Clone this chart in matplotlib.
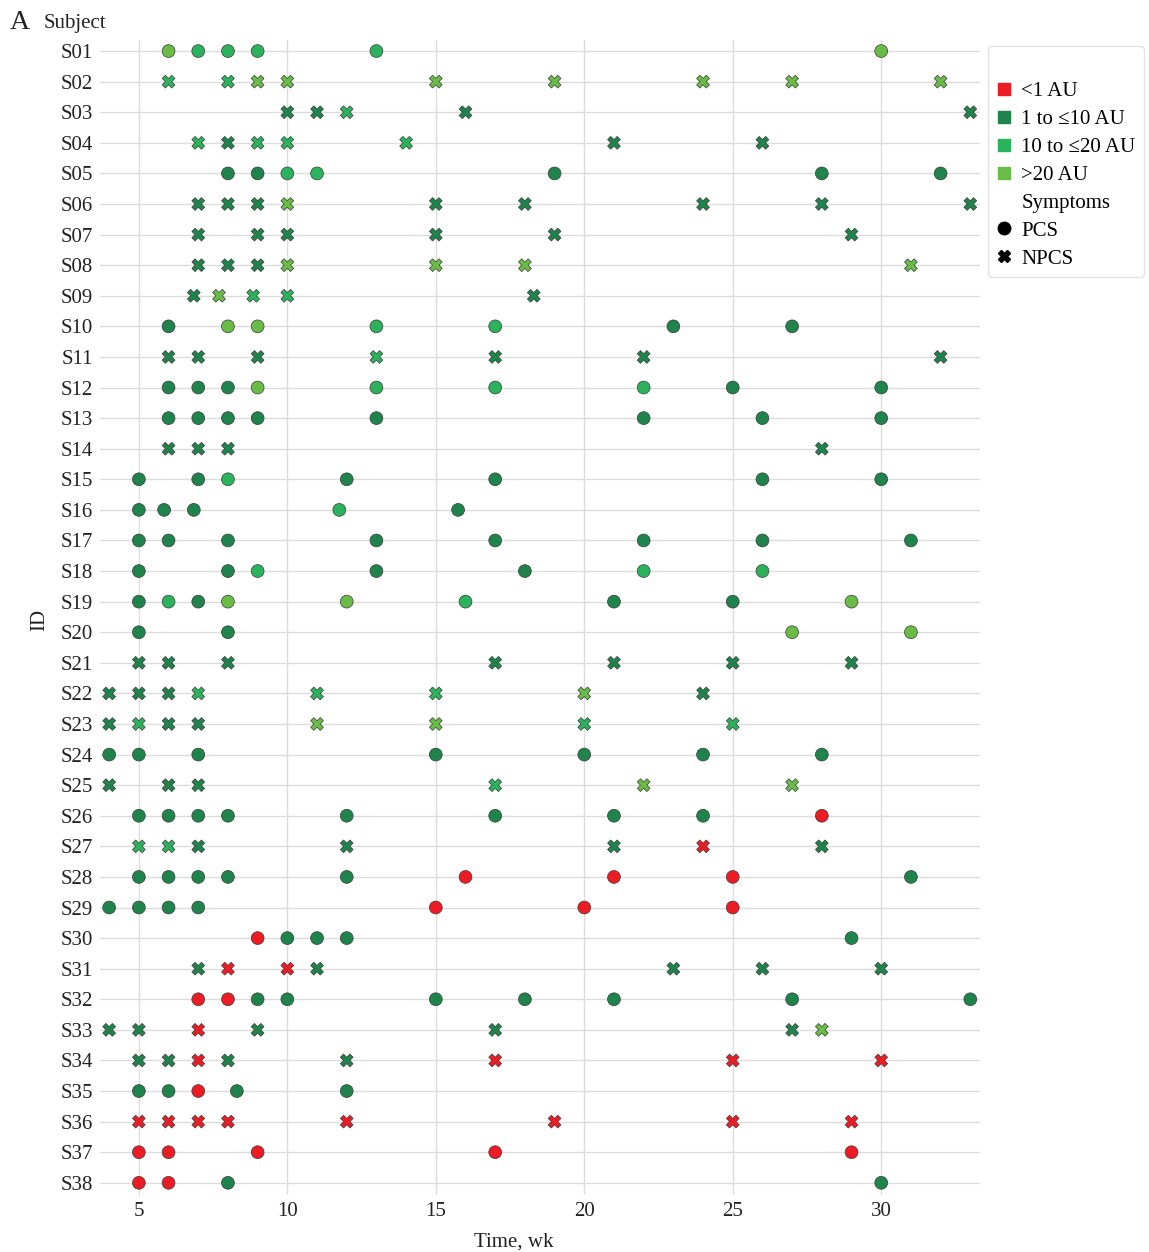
import matplotlib
matplotlib.use("Agg")
import matplotlib.pyplot as plt
from matplotlib.lines import Line2D

plt.rcParams['font.family'] = ['Liberation Serif', 'DejaVu Serif']

# subjects, symptom group and sampling weeks with antibody level class
# level: 0 = <1 AU, 1 = 1 to <=10 AU, 2 = 10 to <=20 AU, 3 = >20 AU
subjects = ["S%02d" % i for i in range(1, 39)]
symptoms = ["PCS", "NPCS", "NPCS", "NPCS", "PCS", "NPCS", "NPCS", "NPCS", "NPCS", "PCS",
            "NPCS", "PCS", "PCS", "NPCS", "PCS", "PCS", "PCS", "PCS", "PCS", "PCS",
            "NPCS", "NPCS", "NPCS", "PCS", "NPCS", "PCS", "NPCS", "PCS", "PCS", "PCS",
            "NPCS", "PCS", "NPCS", "NPCS", "PCS", "NPCS", "PCS", "PCS"]

weeks = [
    [6, 7, 8, 9, 13, 30],
    [6, 8, 9, 10, 15, 19, 24, 27, 32],
    [10, 11, 12, 16, 33],
    [7, 8, 9, 10, 14, 21, 26],
    [8, 9, 10, 11, 19, 28, 32],
    [7, 8, 9, 10, 15, 18, 24, 28, 33],
    [7, 9, 10, 15, 19, 29],
    [7, 8, 9, 10, 15, 18, 31],
    [6.85, 7.7, 8.85, 10, 18.3],
    [6, 8, 9, 13, 17, 23, 27],
    [6, 7, 9, 13, 17, 22, 32],
    [6, 7, 8, 9, 13, 17, 22, 25, 30],
    [6, 7, 8, 9, 13, 22, 26, 30],
    [6, 7, 8, 28],
    [5, 7, 8, 12, 17, 26, 30],
    [5, 5.85, 6.85, 11.75, 15.75],
    [5, 6, 8, 13, 17, 22, 26, 31],
    [5, 8, 9, 13, 18, 22, 26],
    [5, 6, 7, 8, 12, 16, 21, 25, 29],
    [5, 8, 27, 31],
    [5, 6, 8, 17, 21, 25, 29],
    [4, 5, 6, 7, 11, 15, 20, 24],
    [4, 5, 6, 7, 11, 15, 20, 25],
    [4, 5, 7, 15, 20, 24, 28],
    [4, 6, 7, 17, 22, 27],
    [5, 6, 7, 8, 12, 17, 21, 24, 28],
    [5, 6, 7, 12, 21, 24, 28],
    [5, 6, 7, 8, 12, 16, 21, 25, 31],
    [4, 5, 6, 7, 15, 20, 25],
    [9, 10, 11, 12, 29],
    [7, 8, 10, 11, 23, 26, 30],
    [7, 8, 9, 10, 15, 18, 21, 27, 33],
    [4, 5, 7, 9, 17, 27, 28],
    [5, 6, 7, 8, 12, 17, 25, 30],
    [5, 6, 7, 8.3, 12],
    [5, 6, 7, 8, 12, 19, 25, 29],
    [5, 6, 9, 17, 29],
    [5, 6, 8, 30],
]

levels = [
    [3, 2, 2, 2, 2, 3],
    [2, 2, 3, 3, 3, 3, 3, 3, 3],
    [1, 1, 2, 1, 1],
    [2, 1, 2, 2, 2, 1, 1],
    [1, 1, 2, 2, 1, 1, 1],
    [1, 1, 1, 3, 1, 1, 1, 1, 1],
    [1, 1, 1, 1, 1, 1],
    [1, 1, 1, 3, 3, 3, 3],
    [1, 3, 2, 2, 1],
    [1, 3, 3, 2, 2, 1, 1],
    [1, 1, 1, 2, 1, 1, 1],
    [1, 1, 1, 3, 2, 2, 2, 1, 1],
    [1, 1, 1, 1, 1, 1, 1, 1],
    [1, 1, 1, 1],
    [1, 1, 2, 1, 1, 1, 1],
    [1, 1, 1, 2, 1],
    [1, 1, 1, 1, 1, 1, 1, 1],
    [1, 1, 2, 1, 1, 2, 2],
    [1, 2, 1, 3, 3, 2, 1, 1, 3],
    [1, 1, 3, 3],
    [1, 1, 1, 1, 1, 1, 1],
    [1, 1, 1, 2, 2, 2, 3, 1],
    [1, 2, 1, 1, 3, 3, 2, 2],
    [1, 1, 1, 1, 1, 1, 1],
    [1, 1, 1, 2, 3, 3],
    [1, 1, 1, 1, 1, 1, 1, 1, 0],
    [2, 2, 1, 1, 1, 0, 1],
    [1, 1, 1, 1, 1, 0, 0, 0, 1],
    [1, 1, 1, 1, 0, 0, 0],
    [0, 1, 1, 1, 1],
    [1, 0, 0, 1, 1, 1, 1],
    [0, 0, 1, 1, 1, 1, 1, 1, 1],
    [1, 1, 0, 1, 1, 1, 3],
    [1, 1, 0, 1, 1, 0, 0, 0],
    [1, 1, 0, 1, 1],
    [0, 0, 0, 0, 0, 0, 0, 0],
    [0, 0, 0, 0, 0],
    [0, 0, 1, 1],
]

level_labels = ["<1 AU", "1 to \u226410 AU", "10 to \u226420 AU", ">20 AU"]
level_colors = ["#ED1C24", "#1E844B", "#2BB25C", "#69BC46"]
symptom_markers = {"PCS": "o", "NPCS": "X"}

fig = plt.figure(figsize=(11.49, 12.52), dpi=100)
ax = fig.add_axes([0.087, 0.0455, 0.766, 0.9225])

for i, subj in enumerate(subjects):
    cols = [level_colors[l] for l in levels[i]]
    ax.scatter(weeks[i], [i] * len(weeks[i]), c=cols, marker=symptom_markers[symptoms[i]],
               s=85, edgecolors="#3a3a3a", linewidths=0.5, zorder=3)

ax.set_xlim(3.69, 33.33)
ax.set_ylim(37.4, -0.36)
ax.set_yticks(range(len(subjects)))
ax.set_yticklabels(subjects)
ax.set_xticks([5, 10, 15, 20, 25, 30])
ax.tick_params(axis="both", length=0, labelsize=15, colors="#222222", pad=5)
ax.grid(True, color="#dcdcdc", linewidth=1)
ax.set_axisbelow(True)
for sp in ax.spines.values():
    sp.set_visible(False)

fig.text(0.0087, 0.982, "A", fontsize=20, va="center", ha="left", color="#222222")
fig.text(0.038, 0.981, "Subject", fontsize=15, va="center", ha="left", color="#222222")
fig.text(0.035, 0.505, "ID", fontsize=15, rotation=90, va="center", ha="center", color="#222222")
fig.text(0.447, 0.0, "Time, wk", fontsize=15, va="bottom", ha="center", color="#222222")

handles = [Line2D([], [], marker="s", linestyle="", color=c, markersize=9) for c in level_colors]
handles.append(Line2D([], [], linestyle="", marker=""))
handles.append(Line2D([], [], marker="o", linestyle="", color="black", markersize=9))
handles.append(Line2D([], [], marker="X", linestyle="", color="black", markersize=8))
labels = level_labels + ["Symptoms", "PCS", "NPCS"]

leg = fig.legend(handles, labels, loc="upper left", bbox_to_anchor=(0.86, 0.9633),
                 fontsize=15, title=" ", title_fontsize=15, frameon=True, fancybox=True,
                 handlelength=0.7, handletextpad=0.5, labelspacing=0.4, borderpad=0.4,
                 borderaxespad=0)
leg.get_frame().set_edgecolor("#dddddd")
leg.get_frame().set_linewidth(1)

fig.savefig("out.png", dpi=100)
